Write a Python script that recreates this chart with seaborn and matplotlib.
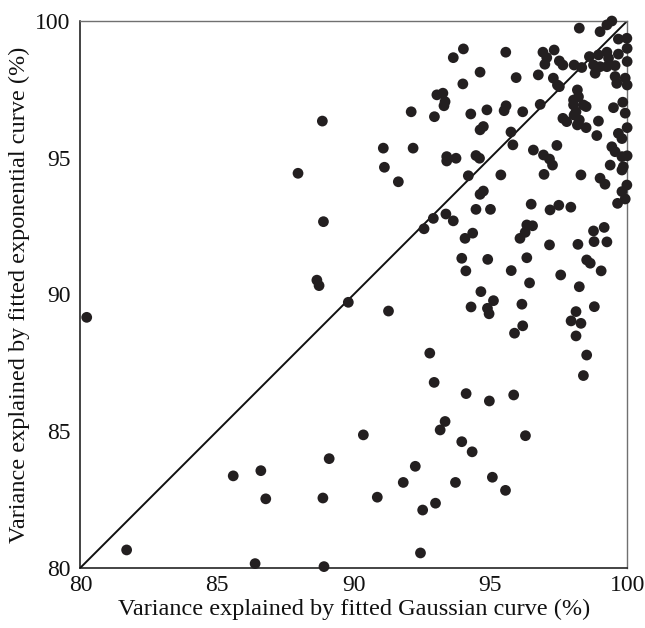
import matplotlib
matplotlib.use("Agg")
import matplotlib.pyplot as plt
import seaborn as sns
import pandas as pd

gaussian_var = [
    80.23, 81.69, 85.59, 86.60, 86.78, 86.39, 88.91, 88.87, 89.10, 90.35,
    90.86, 87.96, 88.85, 88.89, 88.65, 88.73, 89.80, 91.27, 91.12, 91.08,
    93.16, 93.34, 91.81, 92.25, 92.52, 92.99, 92.44, 93.72, 93.95, 94.33,
    95.07, 95.55, 96.28,
    94.65, 95.11, 94.29, 94.89, 94.95, 92.78, 92.94, 94.11, 94.96,
    96.43, 98.25, 96.15, 98.80, 98.13, 97.95, 98.31, 96.18, 95.88, 98.13,
    98.52, 98.40, 95.85,
    95.82, 96.57, 97.43, 96.94, 97.16, 97.27, 95.38, 96.96, 98.31, 99.44,
    99.56, 99.81, 100.00, 99.38, 99.86, 99.81, 99.01, 99.19, 99.99, 99.81,
    99.93, 99.65, 96.49, 97.18, 97.50, 97.94, 96.33, 96.54, 96.27, 96.08,
    98.77, 99.16, 98.79, 99.26, 97.16, 98.20, 96.33, 98.52, 98.65, 95.76,
    97.57, 99.05,
    92.17, 93.40, 93.40, 93.74, 94.47, 94.60, 91.63, 94.19, 94.74, 94.62,
    94.47, 95.00, 93.37, 92.91, 93.64, 92.57, 94.35, 94.07, 93.95, 94.90,
    94.10,
    94.01, 93.64, 95.56, 94.62, 93.99, 93.04, 93.26, 93.34, 93.30, 92.10,
    92.95, 94.28, 94.87, 95.57, 95.50, 94.62, 94.74, 95.75,
    99.44, 99.26, 99.01, 98.25, 99.68, 99.99, 100.00, 96.92, 97.33, 97.06,
    97.52, 96.99, 97.65, 98.06, 98.34, 98.62, 98.95, 99.26, 99.68, 99.32,
    100.00, 98.77, 99.01, 99.26, 99.56, 98.83, 95.94, 96.75, 97.30, 97.45,
    97.52, 99.56, 99.62, 99.93, 100.00, 98.18, 98.22, 98.04, 98.40, 98.50,
    98.04, 98.13, 98.06, 99.50, 99.84, 99.93, 96.18, 96.82, 97.65, 97.79,
    98.25, 98.50, 98.95, 98.18, 98.89, 99.68, 99.81, 100.00,
]

exponential_var = [
    89.16, 80.65, 83.36, 83.55, 82.52, 80.15, 80.04, 82.55, 83.99, 84.86,
    82.58, 94.43, 96.34, 92.66, 90.52, 90.32, 89.71, 89.39, 94.65, 95.35,
    85.04, 85.35, 83.12, 83.71, 82.11, 82.36, 80.54, 83.12, 84.61, 84.24,
    83.31, 82.83, 84.83,
    90.10, 89.77, 89.54, 89.49, 89.29, 87.85, 86.78, 86.37, 86.10,
    90.42, 90.28, 89.64, 89.55, 89.37, 89.03, 88.94, 88.85, 88.58, 88.48,
    87.78, 87.03, 86.32,
    95.47, 95.28, 95.45, 95.10, 94.95, 94.73, 94.37, 94.39, 94.37, 95.40,
    95.22, 95.04, 95.07, 94.73, 94.67, 94.55, 94.25, 94.03, 94.00, 93.76,
    93.49, 93.33, 93.30, 93.09, 93.26, 93.19, 92.54, 92.51, 92.27, 92.05,
    92.32, 92.45, 91.93, 91.92, 91.81, 91.83, 91.34, 91.26, 91.14, 90.87,
    90.71, 90.86,
    95.35, 95.04, 94.88, 94.98, 95.08, 94.98, 94.12, 94.34, 93.78, 93.66,
    93.11, 93.11, 92.94, 92.78, 92.69, 92.40, 92.24, 92.05, 91.32, 91.28,
    90.86,
    98.98, 98.66, 98.86, 98.13, 97.70, 97.30, 97.36, 97.05, 96.90, 96.68,
    96.50, 96.60, 96.75, 96.90, 96.72, 96.02, 96.14, 95.94,
    100.00, 99.86, 99.61, 99.74, 99.34, 99.37, 99.00, 98.86, 98.94, 98.66,
    98.54, 98.42, 98.39, 98.39, 98.30, 98.70, 98.76, 98.86, 98.79, 98.64,
    98.52, 98.39, 98.33, 98.33, 98.37, 98.09, 97.93, 98.03, 97.91, 97.66,
    97.60, 97.97, 97.72, 97.91, 97.66, 97.48, 97.23, 97.11, 96.93, 96.87,
    96.93, 96.68, 96.56, 96.83, 97.03, 96.63, 96.68, 96.95, 96.44, 96.32,
    96.38, 96.10, 96.34, 96.20, 95.81, 95.89, 95.70, 96.10,
]

tick_values = [80, 85, 90, 95, 100]
x_label = "Variance explained by fitted Gaussian curve (%)"
y_label = "Variance explained by fitted exponential curve (%)"

df = pd.DataFrame({"gauss": gaussian_var, "expo": exponential_var})

sns.set_style("white")
plt.rcParams["font.family"] = ["Liberation Serif", "DejaVu Serif"]

fig = plt.figure(figsize=(6.45, 6.28), dpi=100)
ax = fig.add_axes([0.1247, 0.0960, 0.8476, 0.8705])

ax.plot([80, 100], [80, 100], color="#111111", lw=1.4, zorder=1)
sns.scatterplot(data=df, x="gauss", y="expo", ax=ax, s=60, color="#231f20",
                edgecolor="none", linewidth=0, zorder=3, clip_on=False)

ax.set_xlim(80, 100)
ax.set_ylim(80, 100)
ax.set_xticks(tick_values)
ax.set_yticks(tick_values)
ax.set_xticklabels([str(t) for t in tick_values])
ax.set_yticklabels([str(t) for t in tick_values])
ax.tick_params(direction="in", length=10.5, width=1.0, colors="#111111",
               labelsize=17)
ax.tick_params(axis="x", pad=5)
ax.tick_params(axis="y", pad=7)
ax.set_xlabel(x_label, fontsize=17.5, color="#111111", labelpad=2)
ax.set_ylabel(y_label, fontsize=17.5, color="#111111", labelpad=4)

for side in ["left", "bottom"]:
    ax.spines[side].set_color("#111111")
    ax.spines[side].set_linewidth(1.1)
for side in ["top", "right"]:
    ax.spines[side].set_color("#707070")
    ax.spines[side].set_linewidth(1.0)

fig.savefig("out.png", dpi=100)
